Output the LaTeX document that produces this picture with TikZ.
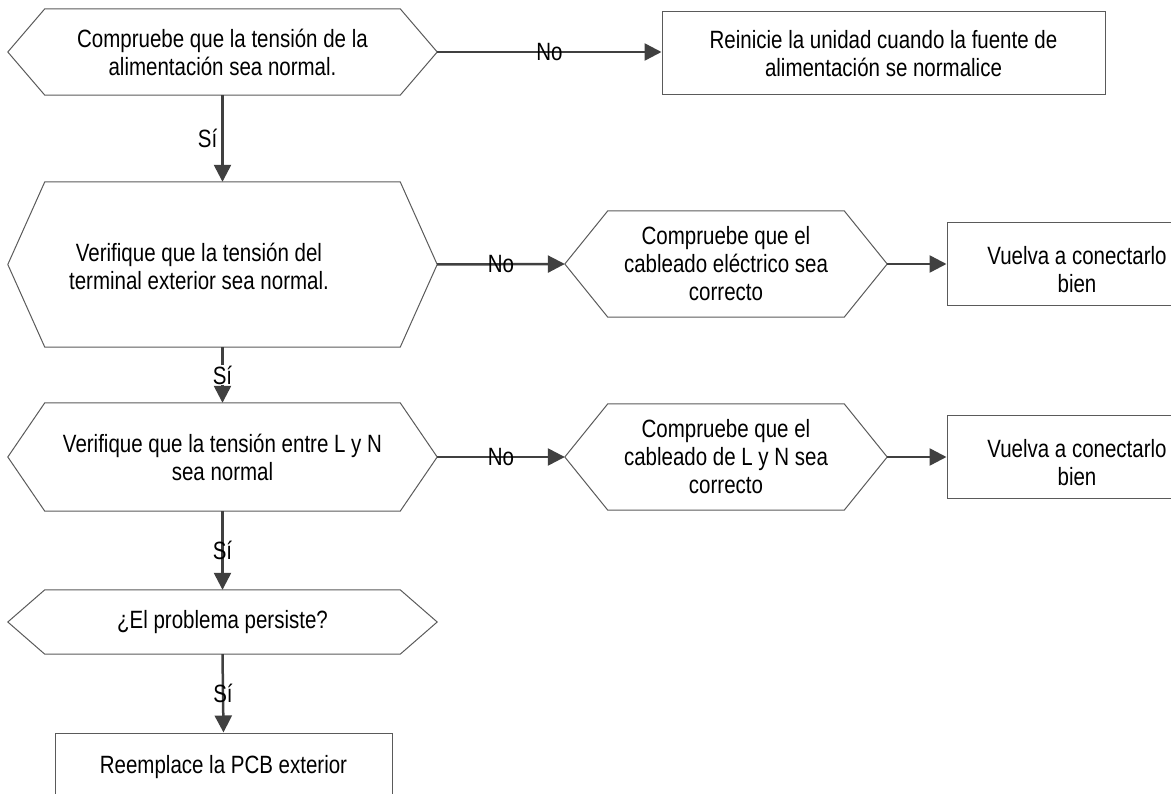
\documentclass[tikz,border=0pt]{standalone}
\usepackage{fontspec}
\setmainfont{Liberation Sans}[FakeStretch=0.82]
\usetikzlibrary{arrows.meta}
\definecolor{wire}{HTML}{404040}
\definecolor{edge}{HTML}{5A5A5A}
% hexagonal decision frame around a node: #1 node name, #2 corner inset
\newcommand\hexframe[2]{%
  \draw[draw=edge, line width=1pt, line join=miter]
    (#1.west) -- ([xshift=#2]#1.north west) -- ([xshift=-#2]#1.north east)
    -- (#1.east) -- ([xshift=-#2]#1.south east) -- ([xshift=#2]#1.south west) -- cycle;}
\begin{document}
\begin{tikzpicture}[x=1pt,y=-1pt,
  every node/.style={font=\fontsize{25}{28}\selectfont, align=center},
  box/.style={draw=edge, line width=1pt, inner sep=0pt},
  hexa/.style={inner sep=0pt},
  flow/.style={draw=wire, line width=2.5pt, -{Triangle[length=17pt,width=17pt]}},
  tag/.style={inner sep=1pt}]
\useasboundingbox (0,0) rectangle (1171,794);
\clip (0,0) rectangle (1171,794);

% main column
\node[hexa, minimum width=429pt, minimum height=86pt] (h1) at (222.5,52)
  {Compruebe que la tensión de la\\alimentación sea normal.};
\node[hexa, minimum width=429pt, minimum height=165pt] (h2) at (222.5,264.5) {};
\node (t2) at (199,266) {Verifique que la tensión del\\terminal exterior sea normal.};
\node[hexa, minimum width=429pt, minimum height=108pt] (h3) at (222.5,457)
  {Verifique que la tensión entre L y N\\sea normal};
\node[hexa, minimum width=429pt, minimum height=64pt] (h4) at (222.5,622)
  {¿El problema persiste?};
\node[box, minimum width=337pt, minimum height=68pt] (r4) at (223.5,767)
  {Reemplace la PCB exterior};

% right-hand branches
\node[box, minimum width=443pt, minimum height=83pt] (r1) at (883.5,53.5)
  {Reinicie la unidad cuando la fuente de\\alimentación se normalice};
\node[hexa, minimum width=322pt, minimum height=106pt] (h5) at (726,264)
  {Compruebe que el\\cableado eléctrico sea\\correcto};
\node[box, minimum width=260pt, minimum height=83pt] (r2) at (1077,264.5) {};
\node (t5) at (1077,270) {Vuelva a conectarlo\\bien};
\node[hexa, minimum width=322pt, minimum height=106pt] (h6) at (726,457)
  {Compruebe que el\\cableado de L y N sea\\correcto};
\node[box, minimum width=260pt, minimum height=82pt] (r3) at (1077,457) {};
\node (t6) at (1077,463) {Vuelva a conectarlo\\bien};

\hexframe{h1}{37pt}
\hexframe{h2}{37pt}
\hexframe{h3}{37pt}
\hexframe{h4}{37pt}
\hexframe{h5}{43pt}
\hexframe{h6}{43pt}

% connectors
\draw[flow] (h1.south) -- node[midway, left=3pt, tag] {Sí} (h2.north);
\draw[flow] (h2.south) -- node[midway, fill=white, tag] {Sí} (h3.north);
\draw[flow] (h3.south) -- node[midway, tag] {Sí} (h4.north);
\draw[flow] (h4.south) -- node[midway, tag] {Sí} (r4.north);

\draw[flow] (h1.east) -- node[midway, tag] {No} (h1.east -| r1.west);
\draw[flow] (h2.east) -- node[midway, tag] {No} (h5.west);
\draw[flow] (h3.east) -- node[midway, tag] {No} (h6.west);
\draw[flow] (h5.east) -- (h5.east -| r2.west);
\draw[flow] (h6.east) -- (r3.west);
\end{tikzpicture}
\end{document}
